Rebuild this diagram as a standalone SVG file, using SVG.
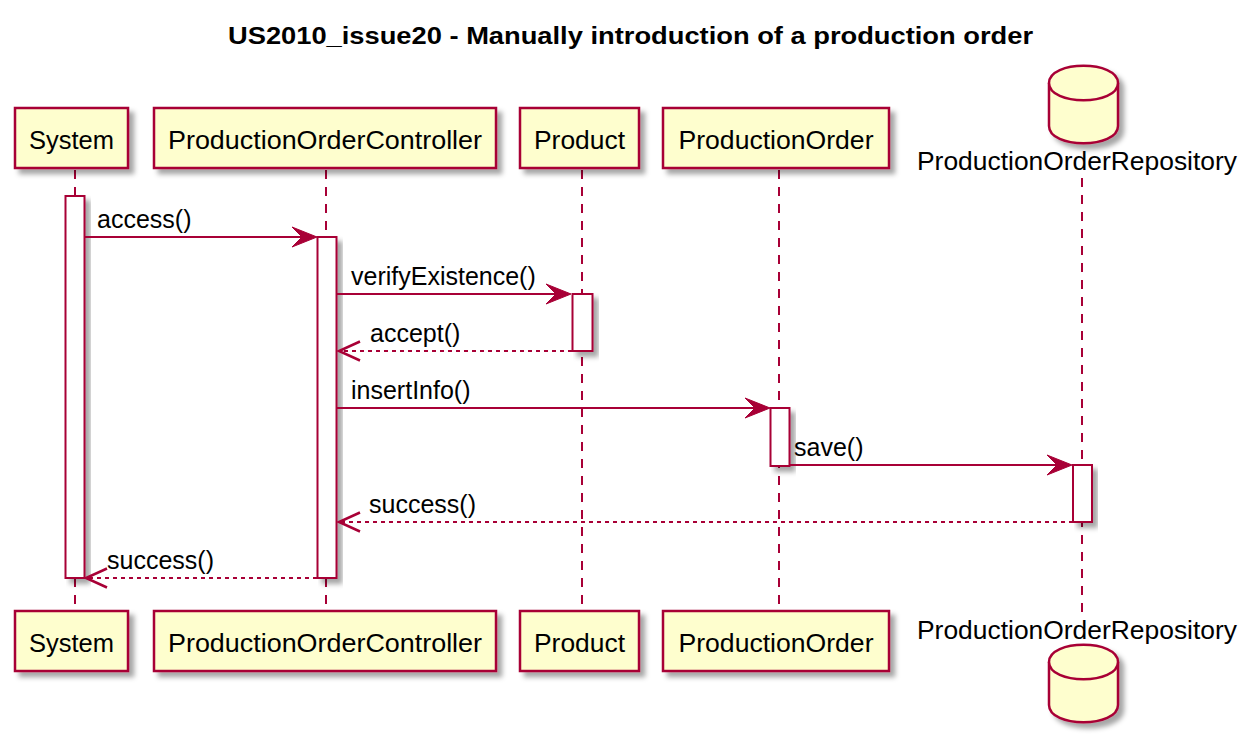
<svg xmlns="http://www.w3.org/2000/svg" width="1260" height="744" viewBox="0 0 1260 744">
<defs>
<filter id="sh" x="-20%" y="-20%" width="150%" height="150%">
<feGaussianBlur in="SourceAlpha" stdDeviation="2.5"/>
<feOffset dx="5" dy="5" result="b"/>
<feFlood flood-color="#000" flood-opacity="0.35"/>
<feComposite in2="b" operator="in"/>
<feMerge><feMergeNode/><feMergeNode in="SourceGraphic"/></feMerge>
</filter>
</defs>
<style>
.box{fill:#FEFECE;stroke:#A80036;stroke-width:2.5}
.act{fill:#FFFFFF;stroke:#A80036;stroke-width:2}
.life{stroke:#A80036;stroke-width:2;stroke-dasharray:9,8;fill:none}
.msg{stroke:#A80036;stroke-width:2;fill:none}
.ret{stroke:#A80036;stroke-width:2;stroke-dasharray:4,4;fill:none}
.head{fill:#A80036;stroke:#A80036;stroke-width:1}
.open{stroke:#A80036;stroke-width:2.5;fill:none}
.pt{font-family:"Liberation Sans",Arial,sans-serif;font-size:26px;fill:#000;text-anchor:middle}
.ml{font-family:"Liberation Sans",Arial,sans-serif;font-size:25px;fill:#000}
.title{font-family:"Liberation Sans",Arial,sans-serif;font-size:23px;font-weight:bold;fill:#000}
</style>
<rect width="1260" height="744" fill="#FFFFFF"/>
<text class="title" x="228" y="44" textLength="805" lengthAdjust="spacingAndGlyphs">US2010_issue20 - Manually introduction of a production order</text>

<g id="lifelines">
<line class="life" x1="75" y1="170" x2="75" y2="611"/>
<line class="life" x1="326" y1="170" x2="326" y2="611"/>
<line class="life" x1="582" y1="170" x2="582" y2="611"/>
<line class="life" x1="779" y1="170" x2="779" y2="611"/>
<line class="life" x1="1082" y1="178" x2="1082" y2="612"/>
</g>

<g id="System">
<rect class="box" x="15" y="108" width="113" height="60" filter="url(#sh)"/>
<text class="pt" x="71.5" y="149" textLength="85" lengthAdjust="spacingAndGlyphs">System</text>
<rect class="box" x="15" y="611" width="113" height="60" filter="url(#sh)"/>
<text class="pt" x="71.5" y="652" textLength="85" lengthAdjust="spacingAndGlyphs">System</text>
<rect class="act" x="65.5" y="196" width="19" height="382" filter="url(#sh)"/>
</g>

<g id="ProductionOrderController">
<rect class="box" x="154" y="108" width="342" height="60" filter="url(#sh)"/>
<text class="pt" x="325" y="149" textLength="314" lengthAdjust="spacingAndGlyphs">ProductionOrderController</text>
<rect class="box" x="154" y="611" width="342" height="60" filter="url(#sh)"/>
<text class="pt" x="325" y="652" textLength="314" lengthAdjust="spacingAndGlyphs">ProductionOrderController</text>
<rect class="act" x="317.5" y="237" width="19" height="341" filter="url(#sh)"/>
</g>

<g id="Product">
<rect class="box" x="520" y="108" width="119" height="60" filter="url(#sh)"/>
<text class="pt" x="579.5" y="149" textLength="91" lengthAdjust="spacingAndGlyphs">Product</text>
<rect class="box" x="520" y="611" width="119" height="60" filter="url(#sh)"/>
<text class="pt" x="579.5" y="652" textLength="91" lengthAdjust="spacingAndGlyphs">Product</text>
<rect class="act" x="572.5" y="294" width="20" height="57" filter="url(#sh)"/>
</g>

<g id="ProductionOrder">
<rect class="box" x="663" y="108" width="226" height="60" filter="url(#sh)"/>
<text class="pt" x="776" y="149" textLength="195" lengthAdjust="spacingAndGlyphs">ProductionOrder</text>
<rect class="box" x="663" y="611" width="226" height="60" filter="url(#sh)"/>
<text class="pt" x="776" y="652" textLength="195" lengthAdjust="spacingAndGlyphs">ProductionOrder</text>
<rect class="act" x="770.5" y="408" width="19" height="58" filter="url(#sh)"/>
</g>

<g id="ProductionOrderRepository">
<g filter="url(#sh)">
<path class="box" d="M1049,83 C1049,60 1118,60 1118,83 L1118,126 C1118,149 1049,149 1049,126 Z"/>
<path class="box" d="M1049,83 C1049,106 1118,106 1118,83" fill="none"/>
</g>
<text class="pt" x="1077" y="170" textLength="320" lengthAdjust="spacingAndGlyphs">ProductionOrderRepository</text>
<text class="pt" x="1077" y="639" textLength="320" lengthAdjust="spacingAndGlyphs">ProductionOrderRepository</text>
<g filter="url(#sh)">
<path class="box" d="M1049,662 C1049,639 1118,639 1118,662 L1118,705 C1118,728 1049,728 1049,705 Z"/>
<path class="box" d="M1049,662 C1049,685 1118,685 1118,662" fill="none"/>
</g>
<rect class="act" x="1073" y="465" width="19" height="57" filter="url(#sh)"/>
</g>

<g id="connectors">
<line class="msg" x1="85" y1="237" x2="308" y2="237"/>
<polygon class="head" points="317,237 292,227 302,237 292,247"/>
<text class="ml" x="97" y="228">access()</text>

<line class="msg" x1="337" y1="294" x2="562" y2="294"/>
<polygon class="head" points="571,294 546,284 556,294 546,304"/>
<text class="ml" x="351" y="285">verifyExistence()</text>

<line class="ret" x1="572" y1="351" x2="340" y2="351"/>
<polyline class="open" points="360,341.5 339,351 360,360.5"/>
<text class="ml" x="370" y="342">accept()</text>

<line class="msg" x1="337" y1="408" x2="761" y2="408"/>
<polygon class="head" points="770,408 745,398 755,408 745,418"/>
<text class="ml" x="351" y="399">insertInfo()</text>

<line class="msg" x1="790" y1="465" x2="1063" y2="465"/>
<polygon class="head" points="1072,465 1047,455 1057,465 1047,475"/>
<text class="ml" x="794" y="456">save()</text>

<line class="ret" x1="1073" y1="522" x2="340" y2="522"/>
<polyline class="open" points="360,512.5 339,522 360,531.5"/>
<text class="ml" x="369" y="513">success()</text>

<line class="ret" x1="317" y1="578" x2="87" y2="578"/>
<polyline class="open" points="107,568.5 86,578 107,587.5"/>
<text class="ml" x="107" y="569">success()</text>
</g>
</svg>
